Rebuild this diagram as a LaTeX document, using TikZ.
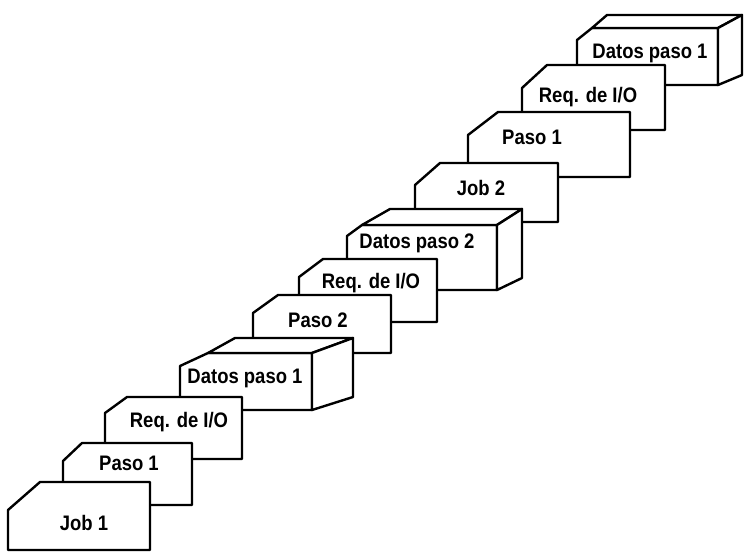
\documentclass[tikz,border=0pt]{standalone}
\usepackage{fontspec}
\setmainfont{Liberation Sans}
\newfontfamily\cardfont[FakeStretch=0.88]{Liberation Sans}
\usepackage{tikz}
\tikzset{
  card/.style   ={draw=black, fill=white, line width=2.4pt, line join=round},
  cardtxt/.style={font=\cardfont\fontsize{21}{24}\selectfont\bfseries, inner sep=0pt},
}

\begin{document}
\begin{tikzpicture}[x=1pt, y=-1pt]
\useasboundingbox (0,0) rectangle (752,552);

% ---------------------------------------------------------------- job 2 (drawn first, sits behind)
% datos paso 1, top box
\draw[card] (577,40) -- (592,28) -- (718,28) -- (718,85) -- (577,85) -- cycle;
\draw[card] (592,28) -- (607,15) -- (742,15) -- (718,28) -- cycle;
\draw[card] (718,28) -- (742,15) -- (742,75) -- (718,85) -- cycle;
\node[cardtxt] (datos1b) at (650,53) {Datos paso 1};

\draw[card] (522,88) -- (547,65) -- (665,65) -- (665,130) -- (522,130) -- cycle;
\node[cardtxt] (req3) at (588,97) {Req. de I/O};

\draw[card] (468,135) -- (498,112) -- (630,112) -- (630,177) -- (468,177) -- cycle;
\node[cardtxt] (paso1b) at (532,137) {Paso 1};

\draw[card] (415,185) -- (440,163) -- (558,163) -- (558,222) -- (415,222) -- cycle;
\node[cardtxt] (job2) at (481,188) {Job 2};

% ---------------------------------------------------------------- paso 2
\draw[card] (347,236) -- (362,225) -- (497,225) -- (497,290) -- (347,290) -- cycle;
\draw[card] (362,225) -- (390,209) -- (522,209) -- (497,225) -- cycle;
\draw[card] (497,225) -- (522,209) -- (522,278) -- (497,290) -- cycle;
\node[cardtxt] (datos2) at (417,243) {Datos paso 2};

\draw[card] (299,277) -- (323,259) -- (437,259) -- (437,322) -- (299,322) -- cycle;
\node[cardtxt] (req2) at (371,283) {Req. de I/O};

\draw[card] (253,313) -- (278,295) -- (391,295) -- (391,353) -- (253,353) -- cycle;
\node[cardtxt] (paso2) at (318,320) {Paso 2};

% ---------------------------------------------------------------- job 1
\draw[card] (180,366) -- (208,353) -- (312,353) -- (312,410) -- (180,410) -- cycle;
\draw[card] (208,353) -- (235,338) -- (353,338) -- (312,353) -- cycle;
\draw[card] (312,353) -- (353,338) -- (353,397) -- (312,410) -- cycle;
\node[cardtxt] (datos1) at (245,378) {Datos paso 1};

\draw[card] (105,413) -- (127,397) -- (242,397) -- (242,459) -- (105,459) -- cycle;
\node[cardtxt] (req1) at (179,422) {Req. de I/O};

\draw[card] (63,461) -- (82,443) -- (192,443) -- (192,505) -- (63,505) -- cycle;
\node[cardtxt] (paso1) at (129,463) {Paso 1};

\draw[card] (8,510) -- (40,482) -- (150,482) -- (150,550) -- (8,550) -- cycle;
\node[cardtxt] (job1) at (84,523) {Job 1};

\end{tikzpicture}
\end{document}
